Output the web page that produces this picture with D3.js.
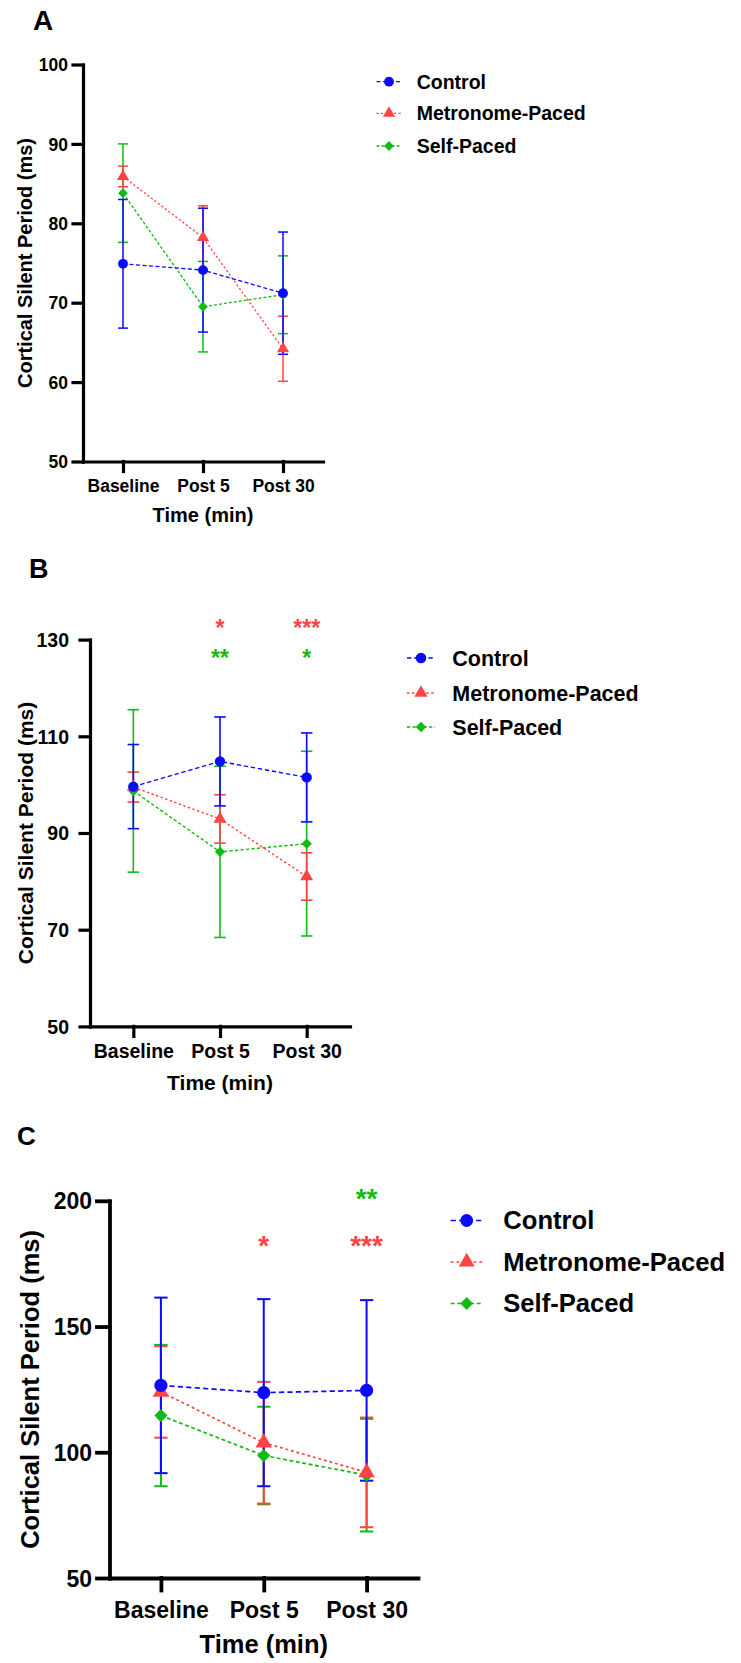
<!DOCTYPE html>
<html lang="en">
<head>
<meta charset="UTF-8">
<script src="https://d3js.org/d3.v7.min.js"></script>
<style>
  body { margin: 0; background: #fff; }
  svg text { font-family: "Liberation Sans", Arial, sans-serif; font-weight: bold; }
</style>
</head>
<body>
<div id="chart"></div>
<script>
// ---- data ----
const timepoints = ["Baseline", "Post 5", "Post 30"];
const groups = ["Control", "Metronome-Paced", "Self-Paced"];

// rows follow `groups`, columns follow `timepoints` (mean and error in ms)
const meansA = [[74.9, 74.1, 71.2], [85.9, 78.2, 64.2], [83.8, 69.5, 71.0]];
const errorsA = [[8.1, 7.8, 7.7], [1.3, 4.0, 4.1], [6.2, 5.7, 4.9]];
const ticksA = [50, 60, 70, 80, 90, 100];

const meansB = [[99.6, 104.8, 101.5], [99.5, 92.9, 81.0], [98.7, 86.1, 87.8]];
const errorsB = [[8.7, 9.2, 9.2], [3.1, 5.0, 4.9], [16.8, 17.7, 19.1]];
const ticksB = [50, 70, 90, 110, 130];
const starsB = [
  { time: "Post 5", group: "Metronome-Paced", label: "*" },
  { time: "Post 30", group: "Metronome-Paced", label: "***" },
  { time: "Post 5", group: "Self-Paced", label: "**" },
  { time: "Post 30", group: "Self-Paced", label: "*" }
];

const meansC = [[126.6, 123.7, 124.6], [124.0, 103.8, 92.0], [114.6, 98.7, 90.9]];
const errorsC = [[34.9, 37.2, 35.9], [18.2, 24.2, 21.8], [28.1, 19.4, 22.4]];
const ticksC = [50, 100, 150, 200];
const starsC = [
  { time: "Post 5", group: "Metronome-Paced", label: "*" },
  { time: "Post 30", group: "Metronome-Paced", label: "***" },
  { time: "Post 30", group: "Self-Paced", label: "**" }
];

// ---- styles ----
const colors = ["#0a0aff", "#ff4444", "#11bb11"];
const dashes = [[4, 2.5], [2.2, 2.2], [3, 2]];

const width = 741;
const height = 1663;

const svg = d3.select("#chart")
  .append("svg")
  .attr("width", width)
  .attr("height", height);

// layout of each panel
const panels = [
  {
    label: "A", labelX: 33, labelY: 30, labelSize: 28,
    means: meansA, errors: errorsA, ticks: ticksA, stars: [],
    x0: 83, x1: 323, yTop: 64.5, yBot: 461.5, domain: [50, 100],
    tickSize: 17.5, tickLen: 10, tickPad: 5, xLabelY: 492,
    titleSize: 20, xTitleY: 522, yTitleX: 32,
    axisW: 3.2, r: 4.9, capW: 10, barW: 1.5, lineW: 1.3, dashK: 1,
    legend: { x: 389, ys: [81.7, 113.3, 146], half: 12.5, textX: 416.7, size: 19.5, r: 4.9 }
  },
  {
    label: "B", labelX: 29, labelY: 578, labelSize: 27,
    means: meansB, errors: errorsB, ticks: ticksB, stars: starsB,
    starSize: 23, starRows: { "Metronome-Paced": 623, "Self-Paced": 653 },
    x0: 90, x1: 350, yTop: 639.6, yBot: 1026.4, domain: [50, 130],
    tickSize: 19.5, tickLen: 10, tickPad: 11, xLabelY: 1058,
    titleSize: 21, xTitleY: 1090, yTitleX: 33,
    axisW: 3.2, r: 5.2, capW: 11.5, barW: 1.6, lineW: 1.4, dashK: 1.1,
    legend: { x: 421, ys: [658, 693, 727], half: 14, textX: 452.3, size: 21.5, r: 5.3 }
  },
  {
    label: "C", labelX: 17, labelY: 1144.5, labelSize: 26,
    means: meansC, errors: errorsC, ticks: ticksC, stars: starsC,
    starSize: 28, starRows: { "Self-Paced": 1191.5, "Metronome-Paced": 1239 },
    x0: 109.5, x1: 418, yTop: 1200.8, yBot: 1578, domain: [50, 200],
    tickSize: 23, tickLen: 12.5, tickPad: 5, xLabelY: 1618,
    titleSize: 25.5, xTitleY: 1653, yTitleX: 39,
    axisW: 3.8, r: 6.6, capW: 13.3, barW: 2, lineW: 1.7, dashK: 1.3,
    legend: { x: 466.7, ys: [1220.5, 1262, 1303.5], half: 16, textX: 503.3, size: 25.6, r: 6.4 }
  }
];

function markerPath(gi, r) {
  if (gi === 0) return d3.symbol(d3.symbolCircle, Math.PI * r * r)();
  if (gi === 1) return d3.symbol(d3.symbolTriangle, 2.7 * r * r)();
  return d3.symbol(d3.symbolSquare, 2.0 * r * r)();
}

function drawMarker(g, gi, cx, cy, r) {
  g.append("path")
    .attr("d", markerPath(gi, r))
    .attr("transform", `translate(${cx},${cy})` + (gi === 2 ? " rotate(45)" : ""))
    .attr("fill", colors[gi]);
}

function drawPanel(p) {
  const g = svg.append("g");

  const x = d3.scalePoint().domain(timepoints).range([p.x0, p.x1]).padding(0.5);
  const y = d3.scaleLinear().domain(p.domain).range([p.yBot, p.yTop]);

  // Panel letter
  g.append("text")
    .attr("x", p.labelX)
    .attr("y", p.labelY)
    .attr("font-size", p.labelSize)
    .text(p.label);

  // Axes
  const yAxis = d3.axisLeft(y).tickValues(p.ticks).tickSize(p.tickLen).tickSizeOuter(0).tickPadding(p.tickPad);
  g.append("g")
    .attr("transform", `translate(${p.x0},0)`)
    .call(yAxis)
    .call(a => a.selectAll("path, line").attr("stroke", "#000").attr("stroke-width", p.axisW).attr("stroke-linecap", "square"))
    .call(a => a.selectAll("text").attr("font-size", p.tickSize).attr("fill", "#000").attr("dy", "0.35em"));

  const xAxis = d3.axisBottom(x).tickSize(p.tickLen).tickSizeOuter(0);
  g.append("g")
    .attr("transform", `translate(0,${p.yBot})`)
    .call(xAxis)
    .call(a => a.selectAll("path, line").attr("stroke", "#000").attr("stroke-width", p.axisW).attr("stroke-linecap", "square"))
    .call(a => a.selectAll("text").attr("font-size", p.tickSize).attr("fill", "#000")
      .attr("y", p.xLabelY - p.yBot).attr("dy", null));

  // Axis titles
  g.append("text")
    .attr("x", (p.x0 + p.x1) / 2)
    .attr("y", p.xTitleY)
    .attr("text-anchor", "middle")
    .attr("font-size", p.titleSize)
    .text("Time (min)");

  g.append("text")
    .attr("transform", `translate(${p.yTitleX},${(p.yTop + p.yBot) / 2}) rotate(-90)`)
    .attr("text-anchor", "middle")
    .attr("font-size", p.titleSize)
    .text("Cortical Silent Period (ms)");

  // Error bars (self-paced first, control on top)
  [2, 1, 0].forEach(gi => {
    timepoints.forEach((t, ti) => {
      const m = p.means[gi][ti], e = p.errors[gi][ti];
      const cx = x(t);
      const bar = g.append("g").attr("stroke", colors[gi]).attr("stroke-width", p.barW);
      bar.append("line").attr("x1", cx).attr("x2", cx).attr("y1", y(m - e)).attr("y2", y(m + e));
      [m - e, m + e].forEach(v => {
        bar.append("line")
          .attr("x1", cx - p.capW / 2).attr("x2", cx + p.capW / 2)
          .attr("y1", y(v)).attr("y2", y(v));
      });
    });
  });

  // Dashed connecting lines
  const line = d3.line().x(d => x(d[0])).y(d => y(d[1]));
  [2, 1, 0].forEach(gi => {
    g.append("path")
      .attr("d", line(timepoints.map((t, ti) => [t, p.means[gi][ti]])))
      .attr("fill", "none")
      .attr("stroke", colors[gi])
      .attr("stroke-width", p.lineW)
      .attr("stroke-dasharray", dashes[gi].map(v => v * p.dashK).join(","));
  });

  // Markers
  [2, 1, 0].forEach(gi => {
    timepoints.forEach((t, ti) => drawMarker(g, gi, x(t), y(p.means[gi][ti]), p.r));
  });

  // Significance stars
  p.stars.forEach(s => {
    const gi = groups.indexOf(s.group);
    g.append("text")
      .attr("x", x(s.time))
      .attr("y", p.starRows[s.group] + 0.585 * p.starSize)
      .attr("text-anchor", "middle")
      .attr("font-size", p.starSize)
      .attr("fill", colors[gi])
      .text(s.label);
  });

  // Legend
  const L = p.legend;
  groups.forEach((name, gi) => {
    const ly = L.ys[gi];
    g.append("line")
      .attr("x1", L.x - L.half).attr("x2", L.x + L.half)
      .attr("y1", ly).attr("y2", ly)
      .attr("stroke", colors[gi])
      .attr("stroke-width", p.lineW)
      .attr("stroke-dasharray", dashes[gi].map(v => v * p.dashK).join(","));
    drawMarker(g, gi, L.x, ly, L.r);
    g.append("text")
      .attr("x", L.textX)
      .attr("y", ly)
      .attr("dy", "0.35em")
      .attr("font-size", L.size)
      .text(name);
  });
}

panels.forEach(drawPanel);
</script>
</body>
</html>
